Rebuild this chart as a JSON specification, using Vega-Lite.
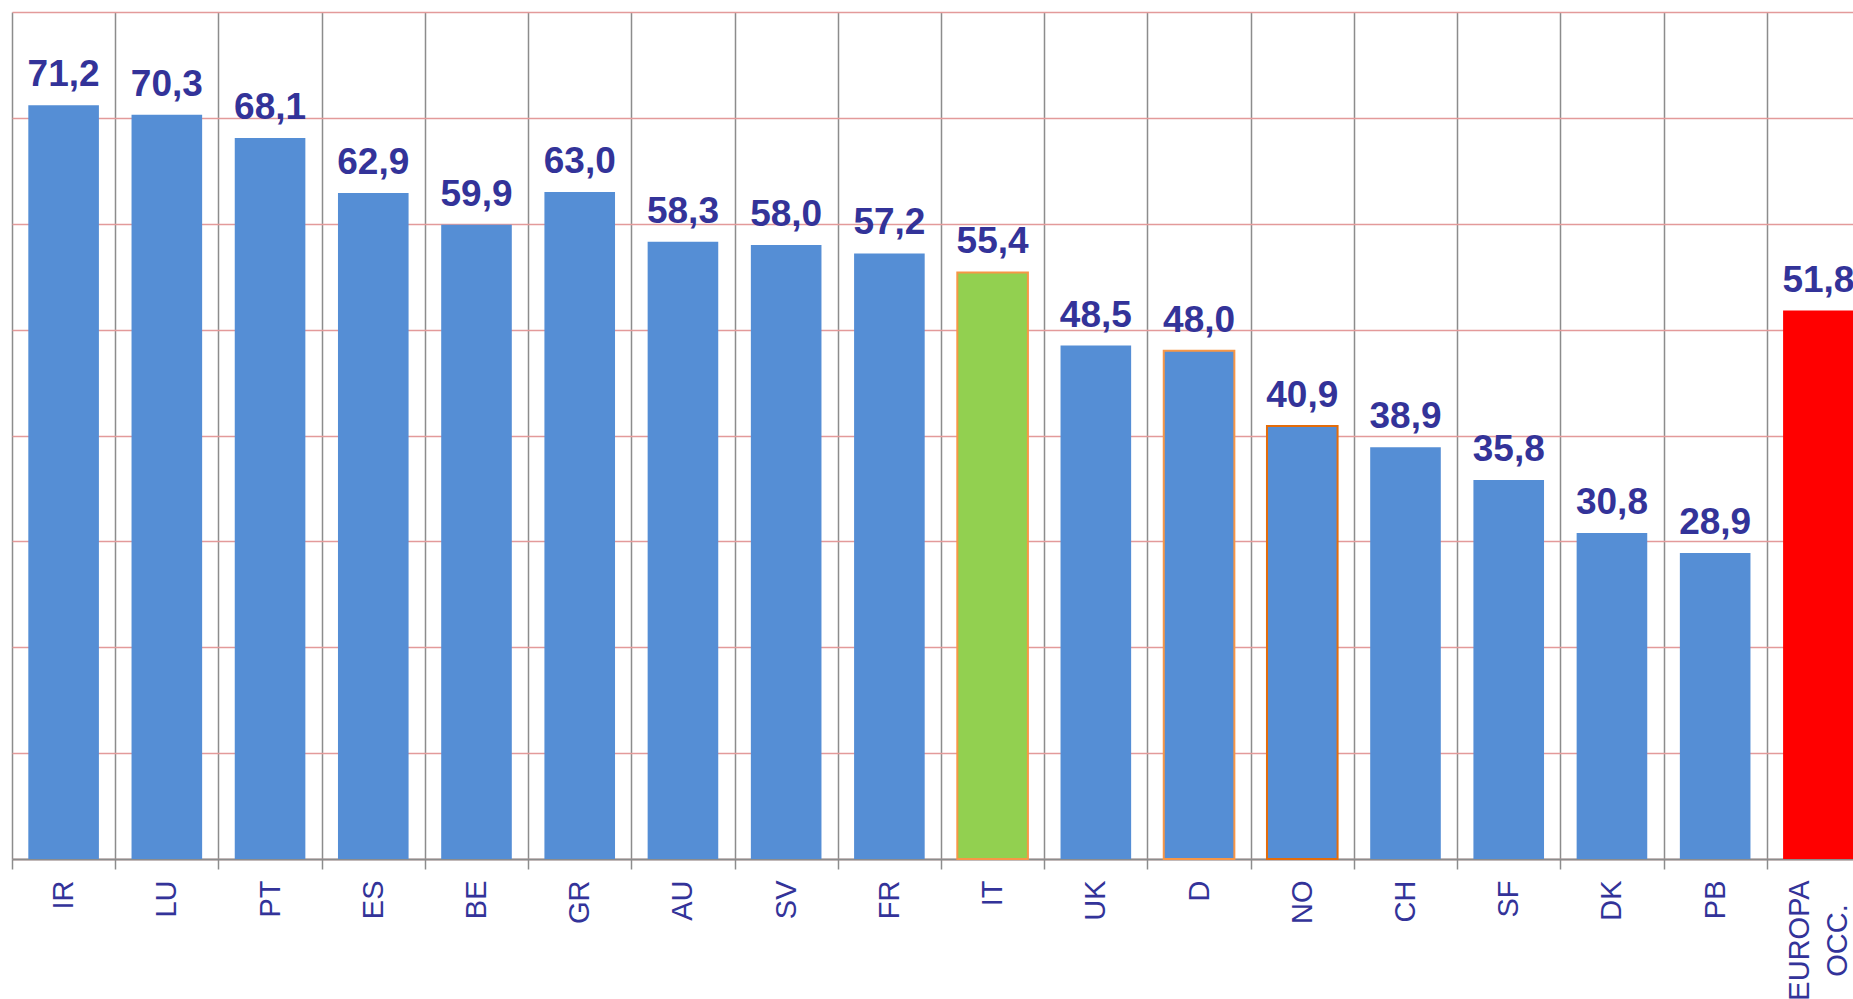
{
  "$schema": "https://vega.github.io/schema/vega-lite/v6.json",
  "autosize": {"type": "none"},
  "width": 1841,
  "height": 847,
  "padding": {"left": 12, "top": 12, "right": 0, "bottom": 140},
  "background": "white",
  "config": {
    "view": {"stroke": null},
    "locale": {"number": {"decimal": ",", "thousands": ".", "grouping": [3], "currency": ["€", ""]}}
  },
  "data": {
    "values": [
      {"paese": "IR", "valore": 71.2, "gruppo": "paese"},
      {"paese": "LU", "valore": 70.3, "gruppo": "paese"},
      {"paese": "PT", "valore": 68.1, "gruppo": "paese"},
      {"paese": "ES", "valore": 62.9, "gruppo": "paese"},
      {"paese": "BE", "valore": 59.9, "gruppo": "paese"},
      {"paese": "GR", "valore": 63.0, "gruppo": "paese"},
      {"paese": "AU", "valore": 58.3, "gruppo": "paese"},
      {"paese": "SV", "valore": 58.0, "gruppo": "paese"},
      {"paese": "FR", "valore": 57.2, "gruppo": "paese"},
      {"paese": "IT", "valore": 55.4, "gruppo": "italia"},
      {"paese": "UK", "valore": 48.5, "gruppo": "paese"},
      {"paese": "D", "valore": 48.0, "gruppo": "paese"},
      {"paese": "NO", "valore": 40.9, "gruppo": "paese"},
      {"paese": "CH", "valore": 38.9, "gruppo": "paese"},
      {"paese": "SF", "valore": 35.8, "gruppo": "paese"},
      {"paese": "DK", "valore": 30.8, "gruppo": "paese"},
      {"paese": "PB", "valore": 28.9, "gruppo": "paese"},
      {"paese": "EUROPA OCC.", "valore": 51.8, "gruppo": "europa"}
    ]
  },
  "encoding": {
    "x": {
      "field": "paese",
      "type": "nominal",
      "sort": null,
      "scale": {"type": "band", "paddingInner": 0, "paddingOuter": 0, "range": [0, 1858]},
      "axis": {
        "title": null,
        "grid": true,
        "gridColor": "#8c8c8c",
        "gridWidth": 1.5,
        "tickBand": "extent",
        "domainColor": "#8c8c8c",
        "domainWidth": 2,
        "tickColor": "#8c8c8c",
        "tickWidth": 1.5,
        "tickSize": 10,
        "labelAngle": -90,
        "labelAlign": {"condition": {"test": "datum.value === 'EUROPA OCC.'", "value": "center"}, "value": "right"},
        "labelBaseline": "middle",
        "labelPadding": {"condition": {"test": "datum.value === 'EUROPA OCC.'", "value": 71}, "value": 11},
        "labelOffset": {"condition": {"test": "datum.value === 'EUROPA OCC.'", "value": -19}, "value": 0},
        "labelFont": "Liberation Sans",
        "labelFontSize": 29,
        "labelColor": "#333399",
        "labelLineHeight": 38,
        "labelOverlap": false,
        "labelLimit": 400,
        "labelExpr": "datum.value === 'EUROPA OCC.' ? ['EUROPA', 'OCC.'] : datum.value"
      }
    },
    "y": {
      "field": "valore",
      "type": "quantitative",
      "scale": {"domain": [0, 80], "nice": false},
      "axis": {
        "title": null,
        "values": [0, 10, 20, 30, 40, 50, 60, 70, 80],
        "grid": true,
        "gridColor": "#e39a9a",
        "gridWidth": 1.5,
        "labels": false,
        "ticks": false,
        "domain": false
      }
    }
  },
  "layer": [
    {
      "mark": {"type": "bar", "width": {"band": 0.684}, "strokeWidth": 2},
      "encoding": {
        "color": {
          "field": "gruppo",
          "type": "nominal",
          "scale": {"domain": ["paese", "italia", "europa"], "range": ["#558ED5", "#92D050", "#FF0000"]},
          "legend": null
        },
        "stroke": {
          "condition": [
            {"test": "datum.paese === 'NO'", "value": "#E46C0A"},
            {"test": "datum.paese === 'IT' || datum.paese === 'D'", "value": "#F79646"}
          ],
          "value": "transparent"
        }
      }
    },
    {
      "mark": {"type": "text", "baseline": "alphabetic", "dy": -19, "font": "Liberation Sans", "fontWeight": "bold", "fontSize": 37, "color": "#333399"},
      "encoding": {
        "text": {"field": "valore", "type": "quantitative", "format": ".1f"}
      }
    }
  ]
}
